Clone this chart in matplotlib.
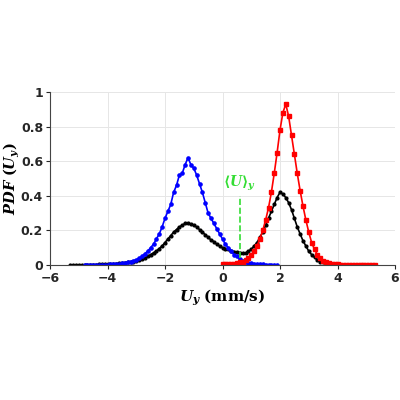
import matplotlib
matplotlib.use('Agg')
import matplotlib.pyplot as plt
import numpy as np

plt.rcParams['mathtext.fontset'] = 'custom'
plt.rcParams['mathtext.it'] = 'DejaVu Serif:italic:bold'
plt.rcParams['mathtext.rm'] = 'DejaVu Serif:bold'
plt.rcParams['mathtext.bf'] = 'DejaVu Serif:bold'

blue_x = np.round(np.arange(-4.8, 1.95, 0.1), 2)
blue_y = [0,0,0,0,0,0,0,0,0.002,0.003,0.004,0.005,0.007,0.009,
          0.012,0.015,0.02,0.025,0.03,0.04,0.05,0.065,0.08,0.1,0.12,0.15,0.18,0.22,0.27,0.31,
          0.35,0.42,0.46,0.52,0.53,0.58,0.62,0.58,0.56,0.52,0.47,0.42,0.36,0.30,0.27,0.24,
          0.21,0.18,0.15,0.12,0.1,0.08,0.06,0.05,0.035,0.025,0.018,0.013,0.01,
          0.008,0.006,0.004,0.003,0.002,0.001,0.001,0,0]
red_x = np.round(np.arange(0.0, 5.35, 0.1), 2)
red_y = [0.003,0.004,0.005,0.006,0.008,0.01,0.015,0.02,0.03,0.04,0.06,0.08,0.11,0.15,0.2,
         0.26,0.33,0.42,0.53,0.65,0.78,0.88,0.93,0.86,0.75,0.64,0.53,0.43,0.34,0.26,
         0.19,0.13,0.09,0.06,0.04,0.025,0.015,0.01,0.006,0.004,0.003,0.002,0.002,0.001,
         0.001,0.001,0,0,0,0,0,0,0,0]
black_x = np.round(np.arange(-5.3, 5.35, 0.1), 2)
black_y = [0.001,0.001,0.001,0.001,0.001,0.001,0.001,0.002,0.002,0.002,0.003,0.003,0.004,0.005,
           0.006,0.007,0.008,0.01,0.012,0.014,0.016,0.018,0.02,0.025,0.03,0.035,0.04,0.05,
           0.06,0.07,0.08,0.095,0.11,0.13,0.15,0.17,0.19,0.205,0.22,0.23,0.24,0.24,0.235,0.23,
           0.22,0.205,0.19,0.175,0.16,0.145,0.135,0.12,0.11,0.1,0.095,0.09,0.08,0.078,0.075,0.072,
           0.07,0.07,0.08,0.09,0.11,0.13,0.16,0.19,0.23,0.27,0.31,0.35,0.39,0.42,0.41,0.39,
           0.36,0.32,0.27,0.22,0.18,0.14,0.11,0.08,0.06,0.045,0.03,0.02,0.015,0.01,0.008,
           0.006,0.004,0.003,0.002,0.002,0.001,0.001,0.001,0.001,0.001,0.001,0.001,0.001,0.001,0.001,0.001]

mean_x = 0.6

fig = plt.figure(figsize=(4, 4), dpi=100)
ax = fig.add_axes([0.125, 0.3375, 0.8625, 0.4325])
ax.plot(black_x, black_y, '-o', color='black', lw=1.2, ms=2.0)
ax.plot(blue_x, blue_y, '-o', color='blue', lw=1.2, ms=2.3)
ax.plot(red_x, red_y, '-s', color='red', lw=1.2, ms=2.3)
ax.plot([mean_x, mean_x], [0.04, 0.40], '--', color='#33dd33', lw=1.2)
ax.text(mean_x, 0.47, r'$\langle U\rangle_y$', color='#33dd33', ha='center', va='center', fontsize=10)

ax.set_xlim(-6, 6)
ax.set_ylim(0, 1)
ax.set_xticks([-6, -4, -2, 0, 2, 4, 6])
ax.set_yticks([0, 0.2, 0.4, 0.6, 0.8, 1])
ax.set_yticklabels(['0', '0.2', '0.4', '0.6', '0.8', '1'])
ax.grid(True, color='#e6e6e6', lw=0.7)
ax.set_axisbelow(True)
for s in ['top', 'right']:
    ax.spines[s].set_visible(False)
for s in ['left', 'bottom']:
    ax.spines[s].set_color('#444444')
ax.tick_params(labelsize=9, colors='#262626', length=3, pad=2)
for l in ax.get_xticklabels() + ax.get_yticklabels():
    l.set_fontweight('bold')
ax.set_xlabel(r'$U_y$ $\mathrm{(mm/s)}$', fontsize=11, labelpad=2)
ax.set_ylabel(r'$PDF$ $(U_y)$', fontsize=10.5)
ax.yaxis.set_label_coords(-0.08, 0.5)
fig.savefig('out.png', dpi=100)
